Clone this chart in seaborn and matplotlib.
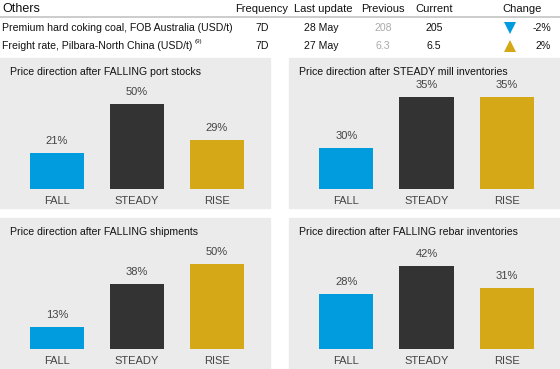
import matplotlib
matplotlib.use("Agg")
import matplotlib.pyplot as plt
from matplotlib.patches import Rectangle
import seaborn as sns

# ---- Data ----
categories = ["FALL", "STEADY", "RISE"]
port_stocks = [21, 50, 29]
mill_inventories = [30, 35, 35]
shipments = [13, 38, 50]
rebar_inventories = [28, 42, 31]

panel_titles = [
    "Price direction after FALLING port stocks",
    "Price direction after STEADY mill inventories",
    "Price direction after FALLING shipments",
    "Price direction after FALLING rebar inventories",
]

table_items = ["Premium hard coking coal, FOB Australia (USD/t)",
               "Freight rate, Pilbara-North China (USD/t)"]
frequency = ["7D", "7D"]
last_update = ["28 May", "27 May"]
previous = ["208", "6.3"]
current = ["205", "6.5"]
change = [-2, 2]

# ---- Style ----
sns.set_theme(style="white")
plt.rcParams["font.family"] = ["Liberation Sans", "DejaVu Sans"]

bar_colors = ["#009CDE", "#333333", "#D4A817"]
panel_bg = "#EBEBEB"
text_grey = "#444444"

W, H = 560, 369
fig = plt.figure(figsize=(W / 100, H / 100), dpi=100)


def px_rect(x0, y0, x1, y1):
    # pixel box (top-left origin) -> figure fraction [left, bottom, width, height]
    return [x0 / W, 1 - y1 / H, (x1 - x0) / W, (y1 - y0) / H]


# ---- Panel backgrounds (behind everything) ----
for px, py, pw, ph in [(0, 58, 270, 150), (289, 58, 271, 150),
                       (0, 218, 270, 151), (289, 218, 271, 151)]:
    fig.patches.append(Rectangle((px / W, 1 - (py + ph) / H), pw / W, ph / H,
                                 transform=fig.transFigure, color=panel_bg,
                                 zorder=-10))

# ---- Header table ----
tab = fig.add_axes([0, 0, 1, 1])
tab.set_xlim(0, W)
tab.set_ylim(H, 0)
tab.axis("off")

tab.text(2, 9, "Others", fontsize=9, va="center", ha="left", color="#111111")
for label, xc in [("Frequency", 262), ("Last update", 323), ("Previous", 383),
                  ("Current", 434), ("Change", 522)]:
    tab.text(xc, 9, label, fontsize=8, va="center", ha="center", color="#111111")
tab.plot([0, W], [17, 17], color="#C8C8C8", lw=1.3)

row_y = [28, 46]
fs = 7.6
for i, y in enumerate(row_y):
    tab.text(2, y, table_items[i], fontsize=fs, va="center", ha="left", color="#111111")
    tab.text(262, y, frequency[i], fontsize=fs, va="center", ha="center", color="#111111")
    tab.text(321, y, last_update[i], fontsize=fs, va="center", ha="center", color="#111111")
    tab.text(383, y, previous[i], fontsize=fs, va="center", ha="center", color="#AAAAAA")
    tab.text(434, y, current[i], fontsize=fs, va="center", ha="center", color="#111111")
    marker = "v" if change[i] < 0 else "^"
    mcolor = bar_colors[0] if change[i] < 0 else bar_colors[2]
    tab.plot(510, y, marker=marker, color=mcolor, markersize=8, markeredgewidth=0)
    tab.text(551, y, f"{change[i]}%", fontsize=fs, va="center", ha="right", color="#111111")
tab.text(195, 41, "(9)", fontsize=4.5, va="center", ha="left", color="#111111")

# ---- Bar panels ----
panels = [
    (port_stocks, (0, 77), 0, 58),
    (mill_inventories, (26, 38.8), 289, 58),
    (shipments, (0, 77), 0, 218),
    (rebar_inventories, (0, 66.5), 289, 218),
]

for (values, ylim, px, py), title in zip(panels, panel_titles):
    pw = 270 if px == 0 else 271
    ax = fig.add_axes(px_rect(px, py, px + pw, py + 131))
    ax.patch.set_alpha(0)
    sns.barplot(x=categories, y=values, hue=categories, palette=bar_colors,
                legend=False, width=0.675, saturation=1, linewidth=0, ax=ax)
    for cont in ax.containers:
        ax.bar_label(cont, labels=[f"{v:.0f}%" for v in cont.datavalues],
                     padding=5, fontsize=8, color=text_grey)
    ax.set_xlim(-0.7125, 2.6625)
    ax.set_ylim(*ylim)
    ax.set_yticks([])
    ax.set_xlabel("")
    ax.set_ylabel("")
    ax.tick_params(axis="x", length=0, pad=5, labelsize=8, labelcolor=text_grey)
    sns.despine(ax=ax, left=True, bottom=True)
    ax.text(10 / pw, 1 - 14 / 131, title, transform=ax.transAxes,
            fontsize=7.6, va="center", ha="left", color="#111111")

fig.savefig("out.png", dpi=100)
